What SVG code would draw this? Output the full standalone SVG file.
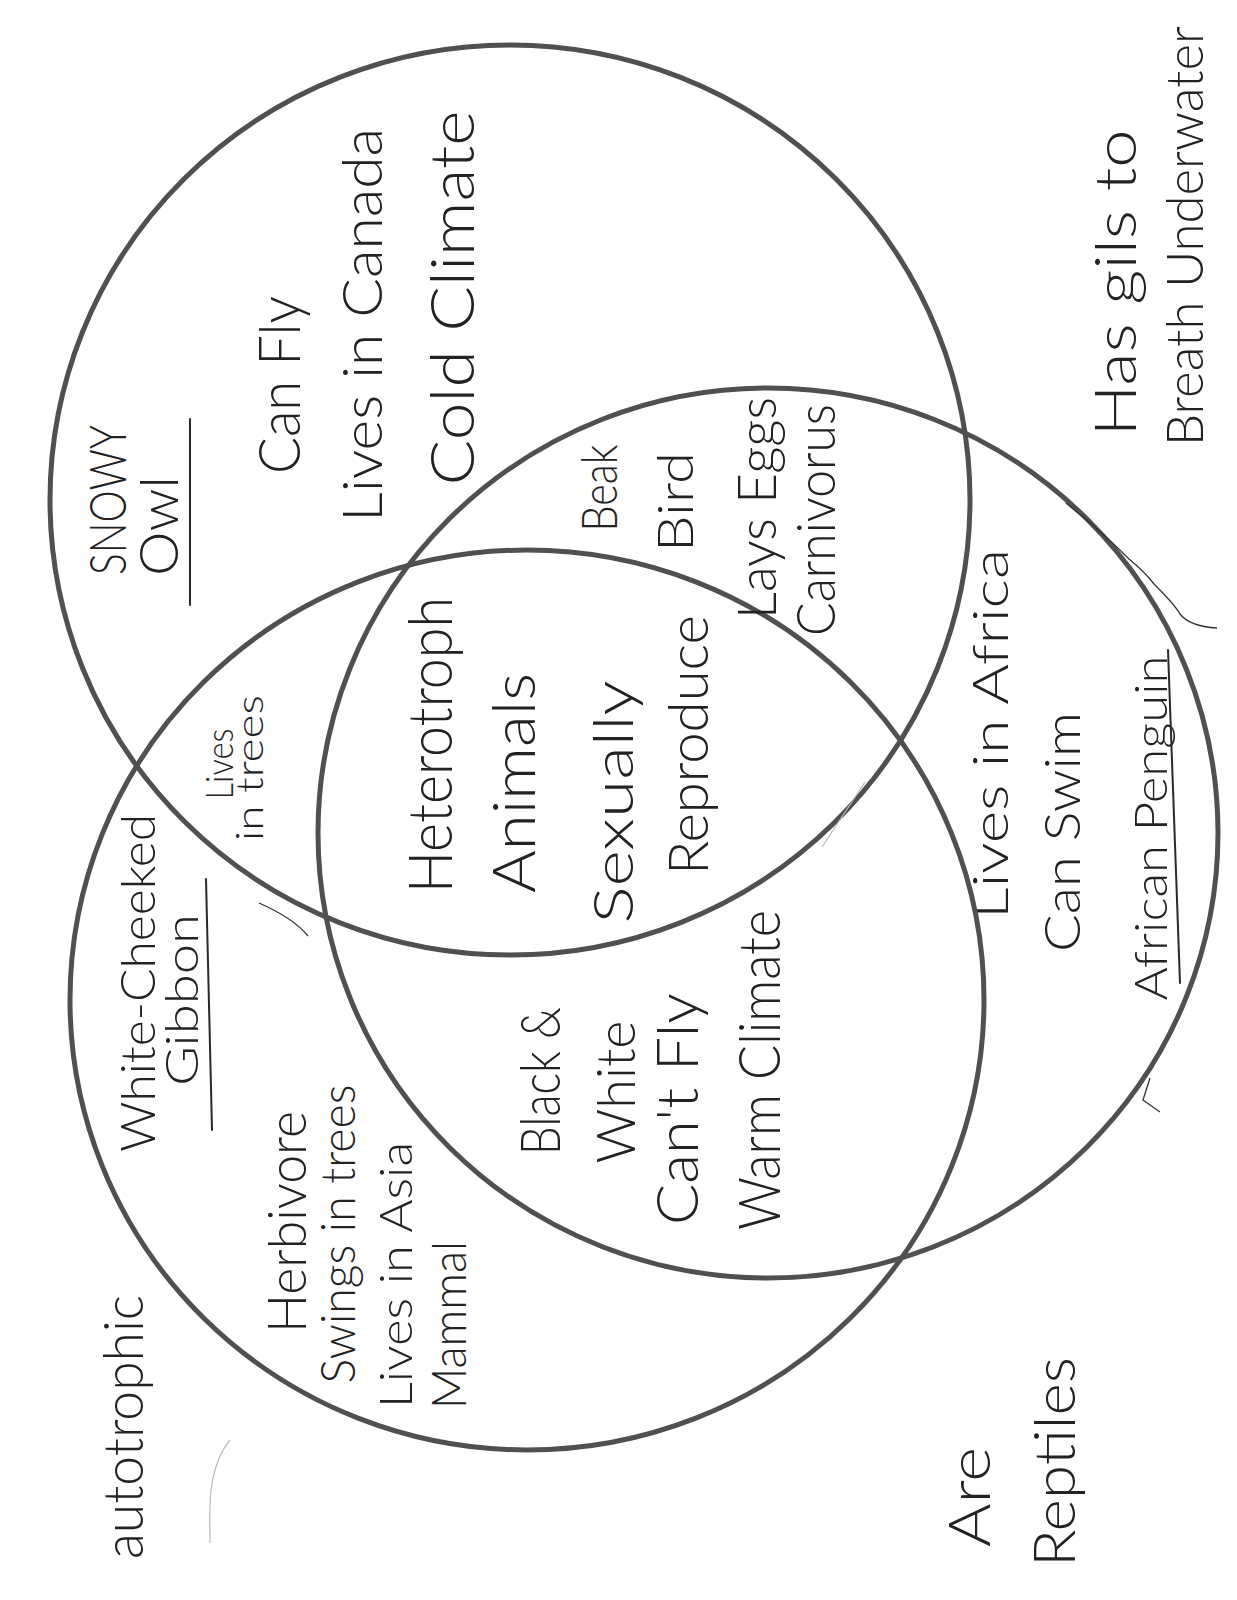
<svg xmlns="http://www.w3.org/2000/svg" width="1237" height="1600" viewBox="0 0 1237 1600">
<style>
.c{fill:none;stroke:#505050;stroke-width:5}
.t{font-family:Lato,"Liberation Sans",Arial,sans-serif;font-weight:300;fill:#222;text-anchor:middle}
.u{stroke:#2a2a2a;stroke-width:2;fill:none;stroke-linecap:round}
.m{stroke:#333;stroke-width:1.3;fill:none}
.f{stroke:#bbb;stroke-width:1.2;fill:none}
</style>
<rect width="1237" height="1600" fill="#fff"/>
<g id="set-snowy-owl">
<ellipse class="c" cx="510" cy="500" rx="460" ry="455"/>
<text class="t" font-size="52" textLength="150" lengthAdjust="spacingAndGlyphs" transform="translate(126,500) rotate(-90)">SNOWY</text>
<text class="t" font-size="54" textLength="100" lengthAdjust="spacingAndGlyphs" transform="translate(178,526) rotate(-90)">Owl</text>
<line class="u" x1="190" y1="419" x2="190" y2="605"/>
<text class="t" font-size="58" textLength="178" lengthAdjust="spacingAndGlyphs" transform="translate(300,385) rotate(-90)">Can Fly</text>
<text class="t" font-size="56" textLength="394" lengthAdjust="spacingAndGlyphs" transform="translate(382,325) rotate(-90)">Lives in Canada</text>
<text class="t" font-size="62" textLength="375" lengthAdjust="spacingAndGlyphs" transform="translate(474,298) rotate(-90)">Cold Climate</text>
</g>
<g id="set-african-penguin">
<ellipse class="c" cx="768" cy="833" rx="450" ry="445"/>
<text class="t" font-size="50" textLength="370" lengthAdjust="spacingAndGlyphs" transform="translate(1008,734) rotate(-90)">Lives in Africa</text>
<text class="t" font-size="50" textLength="240" lengthAdjust="spacingAndGlyphs" transform="translate(1080,832) rotate(-90)">Can Swim</text>
<text class="t" font-size="46" textLength="345" lengthAdjust="spacingAndGlyphs" transform="translate(1167,828) rotate(-90)">African Penguin</text>
<line class="u" x1="1168" y1="650" x2="1180" y2="983"/>
</g>
<g id="set-white-cheeked-gibbon">
<ellipse class="c" cx="527" cy="1000" rx="457" ry="450"/>
<text class="t" font-size="48" textLength="338" lengthAdjust="spacingAndGlyphs" transform="translate(155,983) rotate(-90)">White-Cheeked</text>
<text class="t" font-size="46" textLength="172" lengthAdjust="spacingAndGlyphs" transform="translate(198,1000) rotate(-90)">Gibbon</text>
<line class="u" x1="206" y1="879" x2="212" y2="1130"/>
<text class="t" font-size="54" textLength="222" lengthAdjust="spacingAndGlyphs" transform="translate(306,1222) rotate(-90)">Herbivore</text>
<text class="t" font-size="48" textLength="299" lengthAdjust="spacingAndGlyphs" transform="translate(355,1234) rotate(-90)">Swings in trees</text>
<text class="t" font-size="46" textLength="266" lengthAdjust="spacingAndGlyphs" transform="translate(412,1275) rotate(-90)">Lives in Asia</text>
<text class="t" font-size="48" textLength="168" lengthAdjust="spacingAndGlyphs" transform="translate(466,1325) rotate(-90)">Mammal</text>
</g>
<g id="owl-penguin-overlap">
<text class="t" font-size="50" textLength="87" lengthAdjust="spacingAndGlyphs" transform="translate(617,488) rotate(-90)">Beak</text>
<text class="t" font-size="50" textLength="100" lengthAdjust="spacingAndGlyphs" transform="translate(693,502) rotate(-90)">Bird</text>
<text class="t" font-size="54" textLength="222" lengthAdjust="spacingAndGlyphs" transform="translate(776,508) rotate(-90)">Lays Eggs</text>
<text class="t" font-size="54" textLength="232" lengthAdjust="spacingAndGlyphs" transform="translate(835,520) rotate(-90)">Carnivorus</text>
</g>
<g id="owl-gibbon-overlap">
<text class="t" font-size="38" textLength="71" lengthAdjust="spacingAndGlyphs" transform="translate(233,764) rotate(-90)">Lives</text>
<text class="t" font-size="38" textLength="146" lengthAdjust="spacingAndGlyphs" transform="translate(263,768) rotate(-90)">in trees</text>
</g>
<g id="all-three-overlap">
<text class="t" font-size="62" textLength="296" lengthAdjust="spacingAndGlyphs" transform="translate(452,745) rotate(-90)">Heterotroph</text>
<text class="t" font-size="60" textLength="220" lengthAdjust="spacingAndGlyphs" transform="translate(535,783) rotate(-90)">Animals</text>
<text class="t" font-size="56" textLength="243" lengthAdjust="spacingAndGlyphs" transform="translate(633,802) rotate(-90)">Sexually</text>
<text class="t" font-size="56" textLength="260" lengthAdjust="spacingAndGlyphs" transform="translate(708,745) rotate(-90)">Reproduce</text>
</g>
<g id="penguin-gibbon-overlap">
<text class="t" font-size="56" textLength="148" lengthAdjust="spacingAndGlyphs" transform="translate(560,1081) rotate(-90)">Black &amp;</text>
<text class="t" font-size="54" textLength="143" lengthAdjust="spacingAndGlyphs" transform="translate(635,1092) rotate(-90)">White</text>
<text class="t" font-size="58" textLength="232" lengthAdjust="spacingAndGlyphs" transform="translate(698,1109) rotate(-90)">Can't Fly</text>
<text class="t" font-size="58" textLength="320" lengthAdjust="spacingAndGlyphs" transform="translate(780,1070) rotate(-90)">Warm Climate</text>
</g>
<g id="outside-gills">
<text class="t" font-size="58" textLength="307" lengthAdjust="spacingAndGlyphs" transform="translate(1136,283) rotate(-90)">Has gils to</text>
<text class="t" font-size="52" textLength="420" lengthAdjust="spacingAndGlyphs" transform="translate(1203,236) rotate(-90)">Breath Underwater</text>
</g>
<g id="outside-autotrophic">
<text class="t" font-size="56" textLength="264" lengthAdjust="spacingAndGlyphs" transform="translate(143,1427) rotate(-90)">autotrophic</text>
</g>
<g id="outside-reptiles">
<text class="t" font-size="58" textLength="100" lengthAdjust="spacingAndGlyphs" transform="translate(990,1497) rotate(-90)">Are</text>
<text class="t" font-size="58" textLength="210" lengthAdjust="spacingAndGlyphs" transform="translate(1075,1462) rotate(-90)">Reptiles</text>
</g>
<g id="connectors">
<path class="m" d="M1066,503 C1080,515 1090,522 1099,531 C1110,540 1120,550 1129,559 C1140,568 1148,576 1154,584 C1165,595 1175,605 1180,614 C1186,622 1200,627 1217,628"/>
<path class="m" d="M1150,1078 L1143,1100 L1160,1112"/>
<path class="m" d="M259,903 C275,910 295,920 308,936"/>
<path class="f" d="M822,847 L865,782"/>
<path class="f" d="M230,1440 C220,1452 214,1467 211,1490 C209,1509 210,1528 210,1543"/>
</g>
</svg>
